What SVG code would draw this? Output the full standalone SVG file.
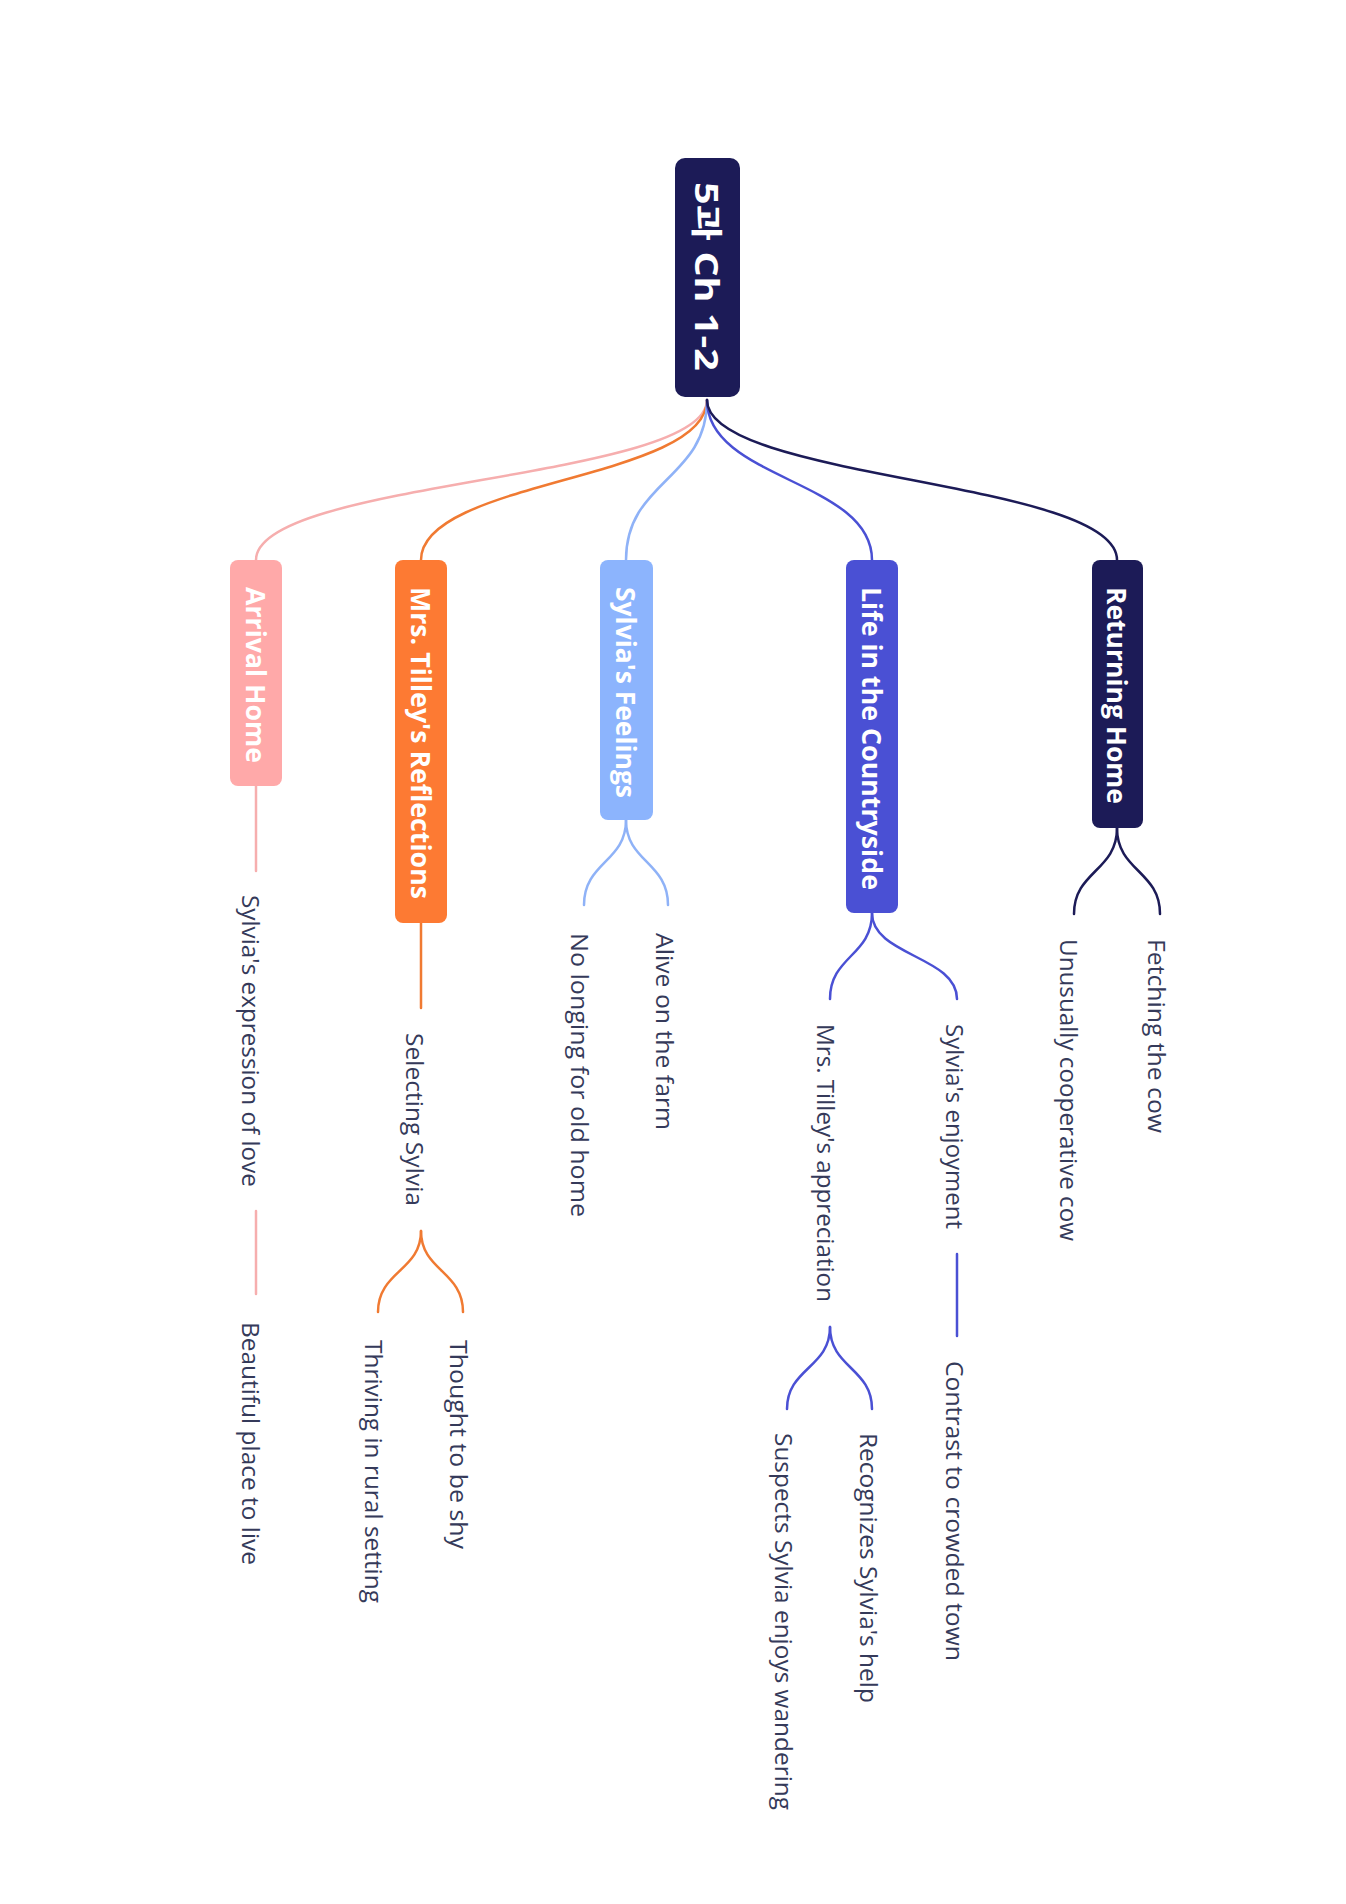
<svg xmlns="http://www.w3.org/2000/svg" width="1346" height="1904" viewBox="0 0 1346 1904">
<style>
.bg{fill:#ffffff}
.leaf{font-family:"Open Sans","Liberation Sans",sans-serif;font-size:24px;fill:#353a5a;dominant-baseline:central}
.nt{font-family:"Open Sans","Liberation Sans",sans-serif;font-weight:700;font-size:26px;fill:#ffffff;dominant-baseline:central}
.rt{font-family:"Open Sans","Noto Sans CJK KR",sans-serif;font-weight:700;font-size:32px;fill:#ffffff;dominant-baseline:central}
.c{fill:none;stroke-width:2.5;stroke-linecap:round}
.pink{stroke:#f6aeae}
.orange{stroke:#f07a32}
.lblue{stroke:#8fb2f7}
.blue{stroke:#4a50d4}
.navy{stroke:#1c1b57}
</style>
<rect class="bg" x="0" y="0" width="1346" height="1904"/>
<g id="connectors">
  <path class="c pink" d="M707 400 C707 480 256 480 256 560"/>
  <path class="c orange" d="M707 400 C707 480 421 480 421 560"/>
  <path class="c lblue" d="M707 400 C707 480 626 480 626 560"/>
  <path class="c blue" d="M707 400 C707 480 872 480 872 560"/>
  <path class="c navy" d="M707 400 C707 480 1117 480 1117 560"/>
  <path class="c pink" d="M256 786 L256 871"/>
  <path class="c pink" d="M256 1211 L256 1294"/>
  <path class="c orange" d="M421 923 L421 1008"/>
  <path class="c orange" d="M421 1231 C421 1271 378 1271 378 1312"/>
  <path class="c orange" d="M421 1231 C421 1271 463 1271 463 1312"/>
  <path class="c lblue" d="M626 820 C626 862 584 862 584 905"/>
  <path class="c lblue" d="M626 820 C626 862 668 862 668 905"/>
  <path class="c blue" d="M872 913 C872 956 830 956 830 999"/>
  <path class="c blue" d="M872 913 C872 956 957 956 957 999"/>
  <path class="c blue" d="M957 1254 L957 1336"/>
  <path class="c blue" d="M830 1327 C830 1368 787 1368 787 1409"/>
  <path class="c blue" d="M830 1327 C830 1368 872 1368 872 1409"/>
  <path class="c navy" d="M1117 828 C1117 871 1074 871 1074 914"/>
  <path class="c navy" d="M1117 828 C1117 871 1160 871 1160 914"/>
</g>
<g id="root">
  <rect x="675" y="158" width="65" height="239" rx="10" fill="#1c1b57"/>
  <text class="rt" transform="translate(707,182) rotate(90)" textLength="189" lengthAdjust="spacingAndGlyphs">5과 Ch 1-2</text>
</g>
<g id="n-arrival">
  <rect x="230" y="560" width="52" height="226" rx="8" fill="#ffa9a9"/>
  <text class="nt" transform="translate(256,587) rotate(90)" textLength="176" lengthAdjust="spacingAndGlyphs">Arrival Home</text>
</g>
<g id="n-tilley">
  <rect x="395" y="560" width="52" height="363" rx="8" fill="#fd7a33"/>
  <text class="nt" transform="translate(421,587) rotate(90)" textLength="312" lengthAdjust="spacingAndGlyphs">Mrs. Tilley's Reflections</text>
</g>
<g id="n-feelings">
  <rect x="600" y="560" width="53" height="260" rx="8" fill="#8cb4fd"/>
  <text class="nt" transform="translate(626,587) rotate(90)" textLength="211" lengthAdjust="spacingAndGlyphs">Sylvia's Feelings</text>
</g>
<g id="n-country">
  <rect x="846" y="560" width="52" height="353" rx="8" fill="#4a50d4"/>
  <text class="nt" transform="translate(872,587) rotate(90)" textLength="303" lengthAdjust="spacingAndGlyphs">Life in the Countryside</text>
</g>
<g id="n-returning">
  <rect x="1092" y="560" width="51" height="268" rx="8" fill="#1c1b57"/>
  <text class="nt" transform="translate(1117,587) rotate(90)" textLength="217" lengthAdjust="spacingAndGlyphs">Returning Home</text>
</g>
<g id="l-expression"><text class="leaf" transform="translate(251,895) rotate(90)" textLength="292" lengthAdjust="spacingAndGlyphs">Sylvia's expression of love</text></g>
<g id="l-beautiful"><text class="leaf" transform="translate(251,1322) rotate(90)" textLength="243" lengthAdjust="spacingAndGlyphs">Beautiful place to live</text></g>
<g id="l-selecting"><text class="leaf" transform="translate(415,1033) rotate(90)" textLength="173" lengthAdjust="spacingAndGlyphs">Selecting Sylvia</text></g>
<g id="l-shy"><text class="leaf" transform="translate(459,1340) rotate(90)" textLength="209" lengthAdjust="spacingAndGlyphs">Thought to be shy</text></g>
<g id="l-thriving"><text class="leaf" transform="translate(374,1340) rotate(90)" textLength="263" lengthAdjust="spacingAndGlyphs">Thriving in rural setting</text></g>
<g id="l-alive"><text class="leaf" transform="translate(665,933) rotate(90)" textLength="197" lengthAdjust="spacingAndGlyphs">Alive on the farm</text></g>
<g id="l-nolonging"><text class="leaf" transform="translate(580,933) rotate(90)" textLength="284" lengthAdjust="spacingAndGlyphs">No longing for old home</text></g>
<g id="l-appreciation"><text class="leaf" transform="translate(826,1024) rotate(90)" textLength="278" lengthAdjust="spacingAndGlyphs">Mrs. Tilley's appreciation</text></g>
<g id="l-enjoyment"><text class="leaf" transform="translate(955,1024) rotate(90)" textLength="205" lengthAdjust="spacingAndGlyphs">Sylvia's enjoyment</text></g>
<g id="l-contrast"><text class="leaf" transform="translate(955,1361) rotate(90)" textLength="300" lengthAdjust="spacingAndGlyphs">Contrast to crowded town</text></g>
<g id="l-recognizes"><text class="leaf" transform="translate(869,1433) rotate(90)" textLength="270" lengthAdjust="spacingAndGlyphs">Recognizes Sylvia's help</text></g>
<g id="l-suspects"><text class="leaf" transform="translate(784,1433) rotate(90)" textLength="377" lengthAdjust="spacingAndGlyphs">Suspects Sylvia enjoys wandering</text></g>
<g id="l-fetching"><text class="leaf" transform="translate(1157,939) rotate(90)" textLength="194" lengthAdjust="spacingAndGlyphs">Fetching the cow</text></g>
<g id="l-unusually"><text class="leaf" transform="translate(1069,939) rotate(90)" textLength="302" lengthAdjust="spacingAndGlyphs">Unusually cooperative cow</text></g>
</svg>
